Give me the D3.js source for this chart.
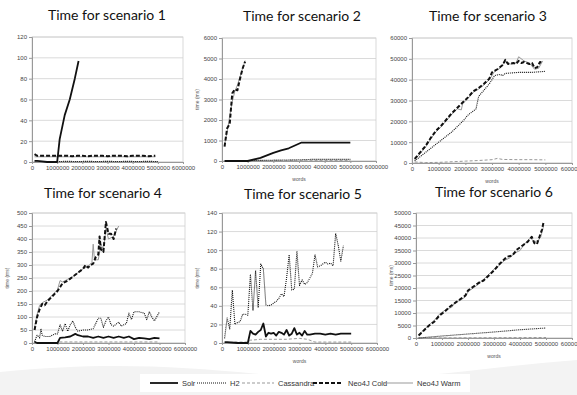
<!DOCTYPE html>
<html>
<head>
<meta charset="utf-8">
<script src="https://cdn.jsdelivr.net/npm/d3@7"></script>
<style>
  body { margin: 0; background: #fff; }
  svg { display: block; }
  .tick text { font-family: "Liberation Sans", sans-serif; font-size: 6px; fill: #444; }
  .title { font-family: Lato, "Open Sans", sans-serif; font-size: 14px; fill: #111; }
  .axis-title { font-family: "Liberation Sans", sans-serif; font-size: 5px; fill: #555; }
  .legend text { font-family: "Liberation Sans", sans-serif; font-size: 7.5px; fill: #333; }
</style>
</head>
<body>
<div id="chart"></div>
<script>
// x = words (millions), y = time (ms)
const libraries = ["Solr", "H2", "Cassandra", "Neo4J Cold", "Neo4J Warm"];
const xTicks = [0, 1, 2, 3, 4, 5, 6];

const s1Solr = [[0.1,1],[0.2,1],[0.4,0.5],[0.6,0],[0.8,0],[1.0,0],[1.1,22],[1.3,45],[1.5,60],[1.7,80],[1.85,97]];
const s1H2 = [[1.0,0.5],[1.4,0.6],[1.8,0.5],[2.2,0.6],[2.6,0.5],[3.0,0.6],[3.4,0.5],[3.8,0.6],[4.2,0.5],[4.6,0.6],[5.0,0.5]];
const s1Cassandra = [[0.1,0],[1.0,0],[2.0,0.2],[3.0,0.2],[4.0,0.2],[5.0,0.2]];
const s1Cold = [[0.1,7.5],[0.2,6],[0.4,6],[0.6,6],[0.8,6],[1.0,6],[1.2,6],[1.4,6],[1.6,5.5],[1.8,6],[2.0,6],[2.2,5.5],[2.4,6],[2.6,6],[2.8,6],[3.0,5.5],[3.2,6],[3.4,6],[3.6,6],[3.8,5.5],[4.0,6],[4.2,6],[4.4,6],[4.6,5.5],[4.9,6]];
const s1Warm = [[0.1,5],[0.4,5],[0.8,5],[1.2,5],[1.6,5],[2.0,5],[2.4,5],[2.8,5],[3.2,5],[3.6,5],[4.0,5],[4.4,5],[4.9,5]];

const s2Solr = [[0.1,0],[0.5,0],[1.0,0],[1.5,150],[2.0,400],[2.3,520],[2.6,620],[3.1,900],[3.5,900],[4.0,900],[4.5,900],[5.0,900]];
const s2H2 = [[1.0,20],[1.5,30],[2.0,40],[2.5,50],[3.0,60],[3.5,80],[4.0,80],[4.5,80],[5.0,80]];
const s2Cassandra = [[0.1,0],[1.0,0],[2.0,10],[3.0,10],[4.0,20],[5.0,20]];
const s2Cold = [[0.1,700],[0.2,1600],[0.3,1800],[0.4,3300],[0.5,3500],[0.6,3450],[0.7,4000],[0.8,4500],[0.9,4850]];
const s2Warm = [[0.1,800],[0.2,1400],[0.3,2200],[0.4,2900],[0.5,3400],[0.6,3700],[0.7,4100],[0.8,4500],[0.9,4900]];

const s3H2 = [[0.1,1000],[0.5,5000],[1.0,10000],[1.5,15000],[1.9,20000],[2.1,23000],[2.3,25000],[2.4,26000],[2.5,32000],[2.7,35000],[2.9,38000],[3.1,42000],[3.3,42500],[3.4,42000],[3.5,43000],[4.0,43500],[4.5,43500],[5.0,44000]];
const s3Cassandra = [[0.1,500],[0.5,200],[1.0,300],[1.5,600],[2.0,900],[2.5,1200],[3.0,1600],[3.2,2200],[3.4,1700],[4.0,1600],[4.5,1600],[5.0,1500]];
const s3Cold = [[0.1,2000],[0.3,5000],[0.5,8000],[0.7,12000],[0.9,15500],[1.1,18000],[1.3,21000],[1.5,24000],[1.7,26500],[1.9,29000],[2.1,31500],[2.3,34500],[2.5,36000],[2.7,38000],[2.9,40500],[3.0,43500],[3.2,45000],[3.4,47000],[3.5,49500],[3.6,47500],[3.8,48000],[3.9,47500],[4.0,49000],[4.1,48000],[4.2,48500],[4.4,47500],[4.5,48000],[4.6,45500],[4.7,46000],[4.8,48500],[4.9,48000]];
const s3Warm = [[0.1,1500],[0.3,4500],[0.5,7500],[0.7,11500],[0.9,15000],[1.1,17500],[1.3,20500],[1.5,23500],[1.7,26000],[1.85,25500],[1.9,28500],[2.1,31000],[2.3,34000],[2.5,35500],[2.7,37500],[2.9,40000],[3.1,44000],[3.3,45500],[3.5,49000],[3.7,47500],[3.9,48000],[4.0,51000],[4.2,49000],[4.4,48000],[4.6,45000],[4.75,45500],[4.9,49000]];

const s4Solr = [[0.1,5],[0.2,0],[0.6,0],[1.0,0],[1.1,20],[1.3,22],[1.5,25],[1.7,35],[1.8,30],[2.0,25],[2.2,25],[2.4,20],[2.6,25],[2.8,20],[3.0,25],[3.2,20],[3.4,25],[3.6,20],[3.8,25],[4.0,15],[4.2,20],[4.4,18],[4.6,15],[4.8,20],[5.0,18]];
const s4H2 = [[0.1,5],[0.2,30],[0.3,20],[0.35,55],[0.4,30],[0.5,25],[0.7,25],[0.9,35],[1.0,35],[1.1,70],[1.2,45],[1.3,75],[1.4,45],[1.5,70],[1.6,85],[1.7,60],[1.8,45],[2.0,50],[2.2,50],[2.4,55],[2.6,95],[2.7,95],[2.8,60],[2.9,85],[3.0,100],[3.1,70],[3.2,65],[3.4,80],[3.5,65],[3.7,75],[3.8,115],[3.9,90],[4.0,120],[4.2,120],[4.4,115],[4.5,90],[4.6,120],[4.7,100],[4.8,85],[5.0,120]];
const s4Cassandra = [[0.1,1],[1.0,1],[1.1,4],[2.0,4],[3.0,4],[4.0,4],[5.0,4]];
const s4Cold = [[0.1,50],[0.2,100],[0.3,130],[0.4,150],[0.5,145],[0.6,160],[0.8,180],[1.0,200],[1.2,230],[1.4,240],[1.6,255],[1.8,270],[2.0,285],[2.1,300],[2.2,290],[2.3,300],[2.4,305],[2.5,330],[2.6,340],[2.65,410],[2.7,360],[2.8,350],[2.9,465],[3.0,420],[3.1,420],[3.2,400],[3.3,440]];
const s4Warm = [[0.1,60],[0.2,110],[0.3,145],[0.4,155],[0.6,165],[0.8,185],[1.0,205],[1.1,240],[1.2,235],[1.4,245],[1.6,255],[1.8,270],[2.0,285],[2.2,295],[2.35,310],[2.4,380],[2.45,320],[2.6,320],[2.7,380],[2.8,360],[2.9,440],[3.0,400],[3.1,405],[3.2,410],[3.4,450]];

const s5Solr = [[0.1,1],[0.2,1],[0.6,0],[1.0,0],[1.1,13],[1.2,10],[1.3,9],[1.4,12],[1.5,14],[1.6,21],[1.7,7],[1.8,11],[1.9,10],[2.0,11],[2.1,8],[2.2,12],[2.3,11],[2.4,9],[2.5,14],[2.6,8],[2.7,10],[2.8,16],[2.9,9],[3.0,11],[3.1,8],[3.2,13],[3.3,9],[3.4,9],[3.6,10],[3.8,10],[4.0,9],[4.2,10],[4.4,9],[4.6,10],[4.8,10],[5.0,10]];
const s5H2 = [[0.1,5],[0.2,27],[0.3,15],[0.4,57],[0.5,20],[0.6,22],[0.7,23],[0.8,31],[0.9,31],[1.0,30],[1.1,74],[1.2,35],[1.3,78],[1.4,38],[1.5,85],[1.6,80],[1.7,41],[1.8,40],[1.9,41],[2.0,43],[2.1,45],[2.2,48],[2.3,53],[2.4,50],[2.5,70],[2.6,95],[2.7,57],[2.8,58],[2.9,99],[3.0,62],[3.1,68],[3.2,63],[3.3,65],[3.4,70],[3.5,75],[3.6,95],[3.7,82],[3.8,83],[3.9,85],[4.0,87],[4.1,85],[4.2,86],[4.3,83],[4.4,118],[4.5,105],[4.6,88],[4.7,105]];
const s5Cassandra = [[0.1,0],[0.5,1],[1.0,1],[1.1,3],[1.5,4],[2.0,4],[2.5,4],[3.0,5],[3.3,4],[3.6,1],[4.0,1],[4.5,1],[5.0,1]];

const s6H2 = [[0.1,0],[1.0,800],[2.0,1600],[3.0,2400],[4.0,3300],[5.0,4000]];
const s6Cassandra = [[0.1,0],[2.5,100],[5.0,200]];
const s6Cold = [[0.1,1000],[0.3,3000],[0.5,5000],[0.7,6500],[0.9,9000],[1.1,10500],[1.3,12500],[1.5,14000],[1.7,15500],[1.9,17000],[2.0,19000],[2.2,20500],[2.4,22000],[2.6,23000],[2.8,25000],[3.0,27000],[3.2,29500],[3.4,31500],[3.5,32500],[3.7,33000],[3.9,35500],[4.1,37000],[4.3,38500],[4.45,40500],[4.55,38000],[4.65,37500],[4.75,40500],[4.85,43500],[4.9,46000]];
const s6Warm = [[0.1,1200],[0.3,3200],[0.5,5200],[0.7,7000],[0.9,9500],[1.1,11000],[1.3,12000],[1.4,12500],[1.5,14500],[1.7,15000],[1.9,16500],[2.0,18500],[2.2,20000],[2.4,21500],[2.6,23500],[2.8,25500],[3.0,27500],[3.2,29000],[3.4,31000],[3.6,32000],[3.8,34000],[4.0,35000],[4.2,38000],[4.4,40000],[4.55,38500],[4.7,39000],[4.8,40500],[4.9,44500]];

const scenarios = [
  { title: "Time for scenario 1", yMax: 120, yStep: 20, series: { "Solr": s1Solr, "H2": s1H2, "Cassandra": s1Cassandra, "Neo4J Cold": s1Cold, "Neo4J Warm": s1Warm } },
  { title: "Time for scenario 2", yMax: 6000, yStep: 1000, series: { "Solr": s2Solr, "H2": s2H2, "Cassandra": s2Cassandra, "Neo4J Cold": s2Cold, "Neo4J Warm": s2Warm } },
  { title: "Time for scenario 3", yMax: 60000, yStep: 10000, series: { "H2": s3H2, "Cassandra": s3Cassandra, "Neo4J Cold": s3Cold, "Neo4J Warm": s3Warm } },
  { title: "Time for scenario 4", yMax: 500, yStep: 50, series: { "Solr": s4Solr, "H2": s4H2, "Cassandra": s4Cassandra, "Neo4J Cold": s4Cold, "Neo4J Warm": s4Warm } },
  { title: "Time for scenario 5", yMax: 140, yStep: 20, series: { "Solr": s5Solr, "H2": s5H2, "Cassandra": s5Cassandra } },
  { title: "Time for scenario 6", yMax: 50000, yStep: 5000, series: { "H2": s6H2, "Cassandra": s6Cassandra, "Neo4J Cold": s6Cold, "Neo4J Warm": s6Warm } },
];

// layout of each panel on the page
const frames = [
  { left: 32, right: 183, top: 37, bottom: 162, titleX: 107, titleY: 20, xTitle: false, yTitle: false },
  { left: 222, right: 376, top: 38, bottom: 161, titleX: 302, titleY: 21, xTitle: true, yTitle: true },
  { left: 412, right: 572, top: 38, bottom: 163, titleX: 488, titleY: 21, xTitle: true, yTitle: false },
  { left: 32, right: 185, top: 213, bottom: 343, titleX: 103, titleY: 198, xTitle: false, yTitle: true },
  { left: 222, right: 377, top: 213, bottom: 343, titleX: 303, titleY: 199, xTitle: true, yTitle: true },
  { left: 416, right: 572, top: 213, bottom: 338, titleX: 494, titleY: 197, xTitle: true, yTitle: true },
];

const styles = {
  "Solr": { stroke: "#111", width: 1.8, dash: null },
  "H2": { stroke: "#111", width: 1.1, dash: "1,1" },
  "Cassandra": { stroke: "#999", width: 1, dash: "3,2" },
  "Neo4J Cold": { stroke: "#111", width: 2, dash: "4,2" },
  "Neo4J Warm": { stroke: "#999", width: 1, dash: null },
};
const drawOrder = ["Cassandra", "Neo4J Warm", "H2", "Solr", "Neo4J Cold"];

const width = 577;
const height = 395;

const svg = d3.select("#chart")
  .append("svg")
  .attr("width", width)
  .attr("height", height);

// faint page shading behind the legend row
svg.append("path")
  .attr("d", "M0,372 C120,360 200,368 300,378 C380,386 470,368 577,360 L577,395 L0,395 Z")
  .attr("fill", "#f3f3f3");
svg.append("rect")
  .attr("x", 140)
  .attr("y", 374)
  .attr("width", 330)
  .attr("height", 18)
  .attr("fill", "#fff");

scenarios.forEach((sc, i) => {
  const f = frames[i];
  const x = d3.scaleLinear().domain([0, 6]).range([f.left, f.right]);
  const y = d3.scaleLinear().domain([0, sc.yMax]).range([f.bottom, f.top]);
  const yTicks = d3.range(0, sc.yMax + sc.yStep / 2, sc.yStep);

  const g = svg.append("g");

  g.append("text")
    .attr("class", "title")
    .attr("x", f.titleX)
    .attr("y", f.titleY)
    .attr("text-anchor", "middle")
    .text(sc.title);

  // gridlines
  g.append("g")
    .selectAll("line")
    .data(yTicks)
    .join("line")
    .attr("x1", f.left)
    .attr("x2", f.right)
    .attr("y1", (d) => y(d))
    .attr("y2", (d) => y(d))
    .attr("stroke", "#d0d0d0")
    .attr("stroke-width", 0.8);

  g.append("rect")
    .attr("x", f.left)
    .attr("y", f.top)
    .attr("width", f.right - f.left)
    .attr("height", f.bottom - f.top)
    .attr("fill", "none")
    .attr("stroke", "#d0d0d0")
    .attr("stroke-width", 0.8);

  const yAxisG = g.append("g")
    .attr("transform", `translate(${f.left},0)`)
    .call(d3.axisLeft(y).tickValues(yTicks).tickSize(3).tickPadding(2).tickFormat(d3.format("d")));
  yAxisG.select(".domain").attr("stroke", "#999");
  yAxisG.selectAll(".tick line").attr("stroke", "#999");

  const xAxisG = g.append("g")
    .attr("transform", `translate(0,${f.bottom})`)
    .call(d3.axisBottom(x).tickValues(xTicks).tickSize(2).tickPadding(2).tickFormat((d) => d3.format("d")(d * 1e6)));
  xAxisG.select(".domain").attr("stroke", "#999");
  xAxisG.selectAll(".tick line").attr("stroke", "#999");

  if (f.xTitle) {
    g.append("text")
      .attr("class", "axis-title")
      .attr("text-anchor", "middle")
      .attr("x", (f.left + f.right) / 2)
      .attr("y", f.bottom + 20)
      .text("words");
  }
  if (f.yTitle) {
    g.append("text")
      .attr("class", "axis-title")
      .attr("text-anchor", "middle")
      .attr("transform", `translate(${f.left - 23},${(f.top + f.bottom) / 2})rotate(-90)`)
      .text("time (ms)");
  }

  const line = d3.line()
    .x((d) => x(d[0]))
    .y((d) => y(d[1]));

  drawOrder.forEach((name) => {
    const data = sc.series[name];
    if (!data) return;
    const s = styles[name];
    g.append("path")
      .datum(data)
      .attr("fill", "none")
      .attr("stroke", s.stroke)
      .attr("stroke-width", s.width)
      .attr("stroke-dasharray", s.dash)
      .attr("stroke-linejoin", "round")
      .attr("d", line);
  });
});

// legend
const legend = svg.append("g").attr("class", "legend");
const legendPos = [ [150, 28, 182], [197, 30, 230], [242, 32, 278], [313, 30, 348], [382, 31, 417] ];
libraries.forEach((name, i) => {
  const [x0, len, tx] = legendPos[i];
  const s = styles[name];
  legend.append("line")
    .attr("x1", x0)
    .attr("x2", x0 + len)
    .attr("y1", 383)
    .attr("y2", 383)
    .attr("stroke", s.stroke)
    .attr("stroke-width", s.width)
    .attr("stroke-dasharray", s.dash);
  legend.append("text")
    .attr("x", tx)
    .attr("y", 386)
    .text(name);
});
</script>
</body>
</html>
